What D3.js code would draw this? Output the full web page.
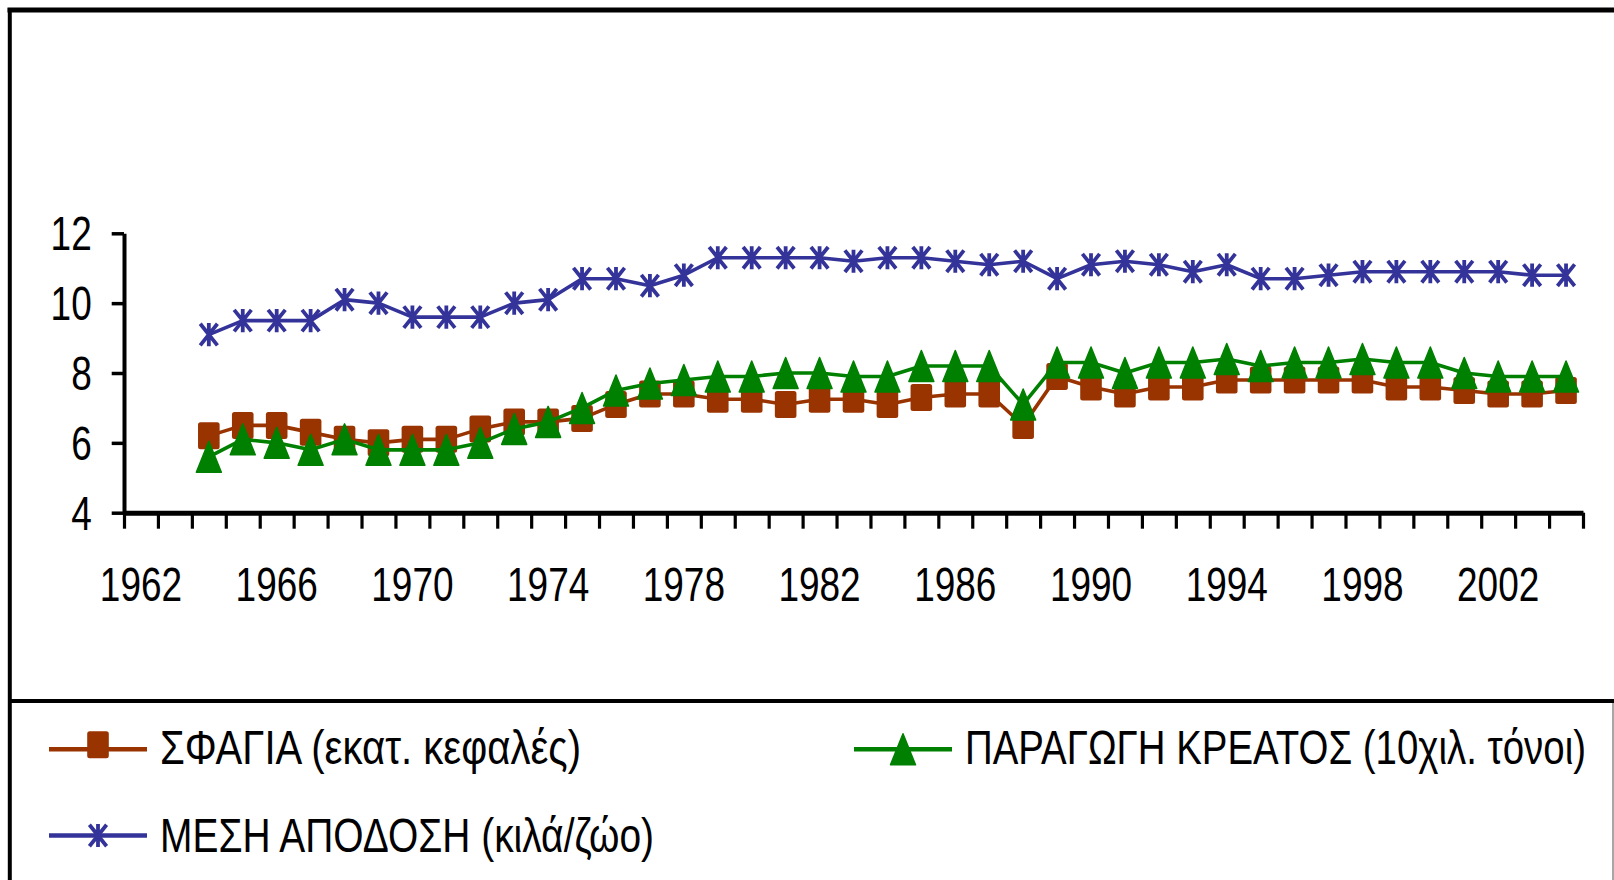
<!DOCTYPE html>
<html>
<head>
<meta charset="UTF-8">
<script src="https://d3js.org/d3.v7.min.js"></script>
<style>
  body { margin: 0; padding: 0; background: #fff; overflow: hidden; }
  svg text { font-family: 'Liberation Sans', Arial, sans-serif; font-size: 48px; fill: #000; }
</style>
</head>
<body>
<div id="chart"></div>
<script>
  // categories on the axis run 1962..2004, data start in 1964
  const axisStart = 1962, axisEnd = 2005;
  const labelYears = [1962, 1966, 1970, 1974, 1978, 1982, 1986, 1990, 1994, 1998, 2002];
  const yTicks = [4, 6, 8, 10, 12];

  const years = [1964, 1965, 1966, 1967, 1968, 1969, 1970, 1971, 1972, 1973, 1974,
    1975, 1976, 1977, 1978, 1979, 1980, 1981, 1982, 1983, 1984, 1985, 1986, 1987,
    1988, 1989, 1990, 1991, 1992, 1993, 1994, 1995, 1996, 1997, 1998, 1999, 2000,
    2001, 2002, 2003, 2004];

  // ΣΦΑΓΙΑ (εκατ. κεφαλές)
  const sfagia = [6.2, 6.5, 6.5, 6.3, 6.1, 6.0, 6.1, 6.1, 6.4, 6.6, 6.6,
    6.7, 7.1, 7.4, 7.4, 7.25, 7.25, 7.1, 7.25, 7.25, 7.1, 7.3, 7.4, 7.4,
    6.5, 7.9, 7.6, 7.4, 7.6, 7.6, 7.8, 7.8, 7.8, 7.8, 7.8, 7.6, 7.6,
    7.5, 7.4, 7.4, 7.5];

  // ΠΑΡΑΓΩΓΗ ΚΡΕΑΤΟΣ (10χιλ. τόνοι)
  const paragogi = [5.6, 6.1, 6.0, 5.8, 6.1, 5.8, 5.8, 5.8, 6.0, 6.4, 6.6,
    7.0, 7.5, 7.7, 7.8, 7.9, 7.9, 8.0, 8.0, 7.9, 7.9, 8.2, 8.2, 8.2,
    7.1, 8.3, 8.3, 8.0, 8.3, 8.3, 8.4, 8.2, 8.3, 8.3, 8.4, 8.3, 8.3,
    8.0, 7.9, 7.9, 7.9];

  // ΜΕΣΗ ΑΠΟΔΟΣΗ (κιλά/ζώο)
  const apodosi = [9.1, 9.5, 9.5, 9.5, 10.1, 10.0, 9.6, 9.6, 9.6, 10.0, 10.1,
    10.7, 10.7, 10.5, 10.8, 11.3, 11.3, 11.3, 11.3, 11.2, 11.3, 11.3, 11.2, 11.1,
    11.2, 10.7, 11.1, 11.2, 11.1, 10.9, 11.1, 10.7, 10.7, 10.8, 10.9, 10.9, 10.9,
    10.9, 10.9, 10.8, 10.8];

  const series = [
    { name: "ΣΦΑΓΙΑ (εκατ. κεφαλές)", values: sfagia, color: "#993300", marker: "square" },
    { name: "ΠΑΡΑΓΩΓΗ ΚΡΕΑΤΟΣ (10χιλ. τόνοι)", values: paragogi, color: "#008000", marker: "triangle" },
    { name: "ΜΕΣΗ ΑΠΟΔΟΣΗ (κιλά/ζώο)", values: apodosi, color: "#333399", marker: "star" }
  ];

  const width = 1614, height = 880;
  const SX = 0.77; // narrow font look

  const svg = d3.select("#chart").append("svg")
    .attr("width", width)
    .attr("height", height);

  const x = d3.scaleLinear().domain([axisStart, axisEnd]).range([124, 1583]);
  const y = d3.scaleLinear().domain([4, 12]).range([512.7, 233.3]);
  const cx = yr => x(yr + 0.5);

  // frame
  svg.append("line").attr("x1", 7.5).attr("x2", width).attr("y1", 10).attr("y2", 10)
    .attr("stroke", "#000").attr("stroke-width", 5);
  svg.append("line").attr("x1", 9.8).attr("x2", 9.8).attr("y1", 8).attr("y2", height)
    .attr("stroke", "#000").attr("stroke-width", 4);
  svg.append("line").attr("x1", 10).attr("x2", width).attr("y1", 701).attr("y2", 701)
    .attr("stroke", "#000").attr("stroke-width", 4);
  svg.append("line").attr("x1", 1613).attr("x2", 1613).attr("y1", 703).attr("y2", height)
    .attr("stroke", "#888").attr("stroke-width", 1.5);

  function label(g, px, py, str, anchor, len) {
    const t = g.append("text")
      .attr("text-anchor", anchor)
      .text(str);
    if (len) {
      // legend entries: squeeze to the width seen in the original
      t.attr("x", px).attr("y", py)
        .attr("textLength", len)
        .attr("lengthAdjust", "spacingAndGlyphs");
    } else {
      t.attr("transform", `translate(${px},${py}) scale(${SX},1)`);
    }
  }

  // axes
  const yAxis = svg.append("g")
    .attr("transform", `translate(${x(axisStart)},0)`)
    .call(d3.axisLeft(y).tickValues(yTicks).tickSize(12.3).tickSizeOuter(0).tickFormat(""));
  yAxis.select(".domain").attr("stroke-width", 4);
  yAxis.selectAll(".tick line").attr("stroke-width", 3.5);

  const xAxis = svg.append("g")
    .attr("transform", `translate(0,${y(4)})`)
    .call(d3.axisBottom(x).tickValues(d3.range(axisStart, axisEnd + 1)).tickSize(16)
      .tickSizeOuter(0).tickFormat(""));
  xAxis.select(".domain").attr("stroke-width", 5);
  xAxis.selectAll(".tick line").attr("stroke-width", 3.2);

  const labels = svg.append("g");
  yTicks.forEach(v => label(labels, 91.7, y(v) + 17, v, "end"));
  labelYears.forEach(yr => label(labels, cx(yr), 601, yr, "middle"));

  // markers
  function drawMarker(g, type, color, mx, my) {
    if (type === "square") {
      g.append("rect")
        .attr("x", mx - 10.8).attr("y", my - 13.5)
        .attr("width", 21.6).attr("height", 27).attr("rx", 2.5)
        .attr("fill", color);
    } else if (type === "triangle") {
      const w = 25, h = 31;
      g.append("path")
        .attr("d", `M${mx},${my - h / 2}L${mx + w / 2},${my + h / 2}L${mx - w / 2},${my + h / 2}Z`)
        .attr("fill", color).attr("stroke", color).attr("stroke-width", 1.5)
        .attr("stroke-linejoin", "round");
    } else {
      const w = 8.6, h = 10.8;
      g.append("path")
        .attr("d", `M${mx},${my - h - 0.8}V${my + h + 0.8}` +
          `M${mx - w},${my - h}L${mx + w},${my + h}` +
          `M${mx - w},${my + h}L${mx + w},${my - h}`)
        .attr("stroke", color).attr("stroke-width", 3.8).attr("fill", "none");
    }
  }

  const line = d3.line()
    .x((d, i) => cx(years[i]))
    .y(d => y(d));

  series.forEach(s => {
    const g = svg.append("g");
    g.append("path")
      .datum(s.values)
      .attr("d", line)
      .attr("fill", "none")
      .attr("stroke", s.color)
      .attr("stroke-width", 3.6)
      .attr("stroke-linejoin", "round");
    s.values.forEach((v, i) => drawMarker(g, s.marker, s.color, cx(years[i]), y(v)));
  });

  // legend
  const legendPos = [
    { lx: 49, ly: 749.3, tx: 160, ty: 764, len: 421 },
    { lx: 854, ly: 749.3, tx: 965, ty: 764, len: 621 },
    { lx: 49, ly: 835.5, tx: 160, ty: 851.7, len: 494 }
  ];
  const legend = svg.append("g");
  series.forEach((s, i) => {
    const p = legendPos[i];
    legend.append("line")
      .attr("x1", p.lx).attr("x2", p.lx + 98)
      .attr("y1", p.ly).attr("y2", p.ly)
      .attr("stroke", s.color).attr("stroke-width", 4.5);
    drawMarker(legend, s.marker, s.color, p.lx + 49, p.ly - (s.marker === "square" ? 4.5 : 0));
    label(legend, p.tx, p.ty, s.name, "start", p.len);
  });
</script>
</body>
</html>
